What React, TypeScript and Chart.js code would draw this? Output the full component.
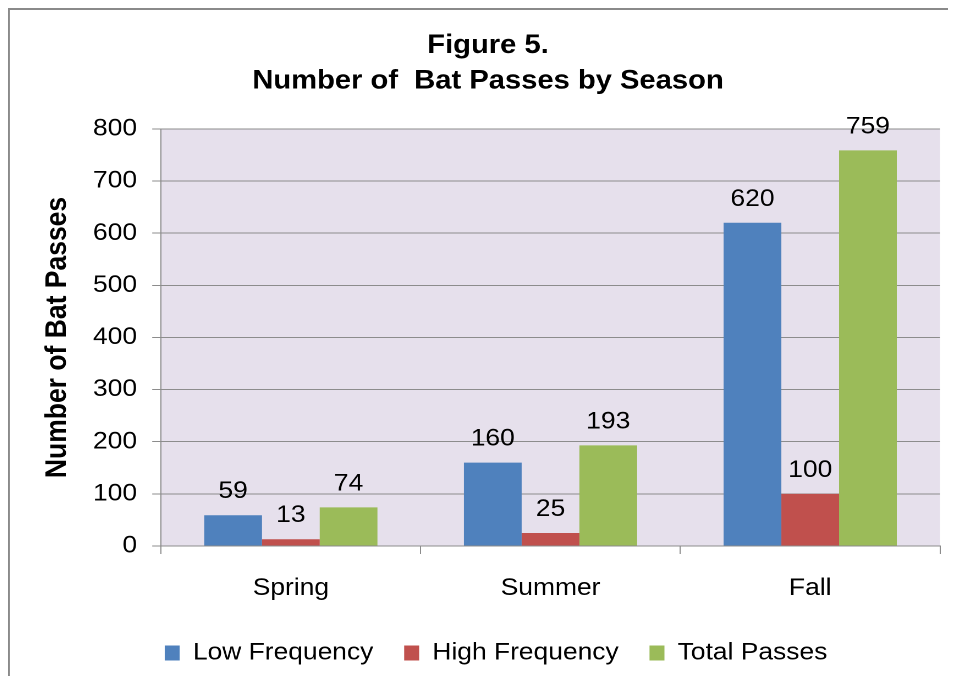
import React, { useEffect, useRef } from 'react';
import { Chart, registerables } from 'chart.js';

Chart.register(...registerables);

const categories = ['Spring', 'Summer', 'Fall'];
const seriesNames = ['Low Frequency', 'High Frequency', 'Total Passes'];
const lowFrequency = [59, 160, 620];
const highFrequency = [13, 25, 100];
const totalPasses = [74, 193, 759];
const seriesColors = ['#4F81BD', '#C0504D', '#9BBB59'];
const titleLines = ['Figure 5.', 'Number of  Bat Passes by Season'];
const yAxisTitle = 'Number of Bat Passes';
const yMin = 0;
const yMax = 800;
const yStep = 100;

const SX = 1.1;
const W = 860;
const H = 668;
const FONT = "'Liberation Sans', Arial, Helvetica, sans-serif";

const backgroundPlugin = {
  id: 'plotBackground',
  beforeDraw(chart: any) {
    const { ctx, chartArea } = chart;
    ctx.save();
    ctx.fillStyle = '#E6E0EC';
    ctx.fillRect(chartArea.left, chartArea.top, chartArea.right - chartArea.left, chartArea.bottom - chartArea.top);
    ctx.fillStyle = '#8A8A8A';
    ctx.fillRect(0, 0, chart.width, 2);
    ctx.fillRect(0, 0, 2 / SX, chart.height);
    ctx.restore();
  },
};

const valueLabelPlugin = {
  id: 'valueLabels',
  afterDatasetsDraw(chart: any) {
    const { ctx } = chart;
    ctx.save();
    ctx.font = `24px ${FONT}`;
    ctx.fillStyle = '#000000';
    ctx.textAlign = 'center';
    ctx.textBaseline = 'alphabetic';
    chart.data.datasets.forEach((ds: any, i: number) => {
      const meta = chart.getDatasetMeta(i);
      meta.data.forEach((bar: any, j: number) => {
        ctx.fillText(String(ds.data[j]), bar.x, bar.y - 17);
      });
    });
    ctx.restore();
  },
};

const boxShiftPlugin = {
  id: 'boxShift',
  afterLayout(chart: any) {
    const lg = chart.legend;
    if (lg) {
      lg.left += 20;
      lg.right += 20;
    }
    const tb = chart.titleBlock;
    if (tb) {
      tb.left += 12.7;
      tb.right += 12.7;
    }
  },
};

export default function App() {
  const canvasRef = useRef<HTMLCanvasElement | null>(null);

  useEffect(() => {
    if (!canvasRef.current) return;
    const chart = new Chart(canvasRef.current, {
      type: 'bar',
      data: {
        labels: categories,
        datasets: [
          { label: seriesNames[0], data: lowFrequency, backgroundColor: seriesColors[0], borderWidth: 0 },
          { label: seriesNames[1], data: highFrequency, backgroundColor: seriesColors[1], borderWidth: 0 },
          { label: seriesNames[2], data: totalPasses, backgroundColor: seriesColors[2], borderWidth: 0 },
        ],
      },
      options: {
        animation: false,
        responsive: true,
        maintainAspectRatio: false,
        devicePixelRatio: 2,
        events: [],
        layout: { padding: { left: 0, right: 12.7, top: 0, bottom: 1 } },
        datasets: { bar: { categoryPercentage: 0.667, barPercentage: 1.0 } },
        plugins: {
          tooltip: { enabled: false },
          title: {
            display: true,
            text: titleLines,
            color: '#000000',
            font: { family: FONT, size: 26.5, weight: 'bold', lineHeight: 1.343 },
            padding: { top: 20, bottom: 29.8 },
          },
          legend: {
            display: true,
            position: 'bottom',
            labels: {
              color: '#000000',
              font: { family: FONT, size: 24 },
              boxWidth: 13.6,
              boxHeight: 15,
              padding: 28,
            },
          },
        },
        scales: {
          x: {
            grid: { display: true, drawOnChartArea: false, drawTicks: true, tickLength: 8, color: '#8C8C8C', offset: true },
            border: { display: true, color: '#8C8C8C', width: 1 },
            ticks: { color: '#000000', font: { family: FONT, size: 24 }, padding: 20, maxRotation: 0 },
            afterFit(scale: any) {
              scale.height = 67;
            },
          },
          y: {
            min: yMin,
            max: yMax,
            ticks: { stepSize: yStep, color: '#000000', font: { family: FONT, size: 24 }, padding: 13.8 },
            grid: { color: '#8C8C8C', tickLength: 8, drawTicks: true },
            border: { display: true, color: '#8C8C8C', width: 1 },
            title: {
              display: true,
              text: yAxisTitle,
              color: '#000000',
              font: { family: FONT, size: 26.5, weight: 'bold' },
              padding: { top: 29.4, bottom: 0 },
            },
            afterFit(scale: any) {
              scale.width = 139.1;
            },
          },
        },
      },
      plugins: [backgroundPlugin, valueLabelPlugin, boxShiftPlugin],
    } as any);
    return () => chart.destroy();
  }, []);

  return (
    <div
      style={{
        position: 'relative',
        width: `${W}px`,
        height: `${H}px`,
        transform: `scaleX(${SX})`,
        transformOrigin: 'left top',
      }}
    >
      <canvas ref={canvasRef} style={{ display: 'block' }} />
    </div>
  );
}
